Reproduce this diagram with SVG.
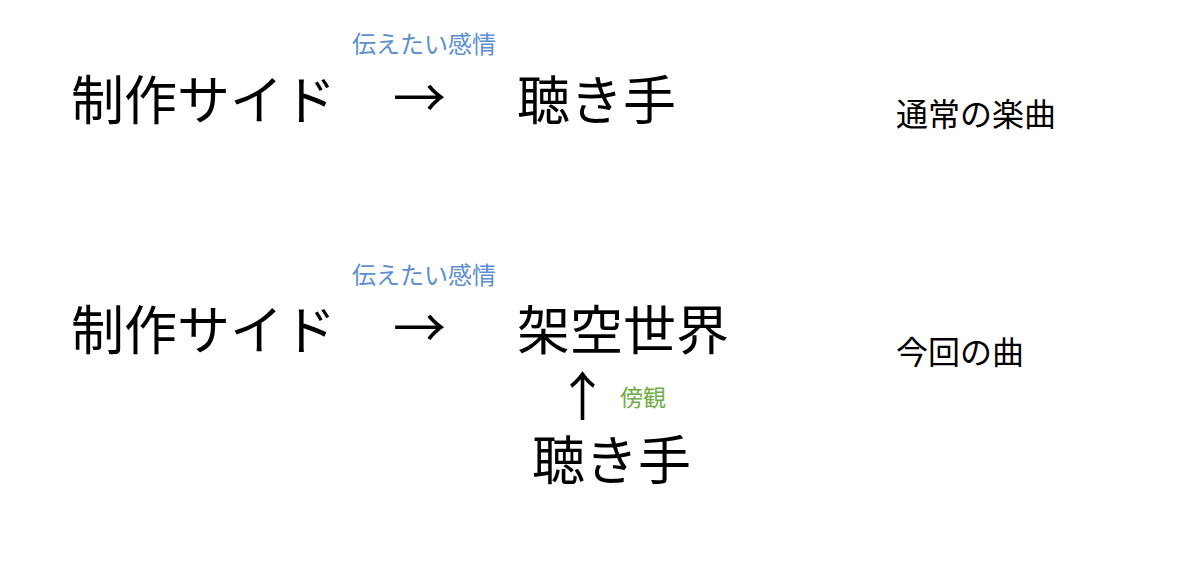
<svg xmlns="http://www.w3.org/2000/svg" width="1200" height="575" viewBox="0 0 1200 575">
<style>
text{font-family:"Noto Sans CJK JP","Noto Sans",sans-serif;fill:#000}
.big{font-size:53px}
.mid{font-size:32px}
.blue{font-size:24px;fill:#5B8FD0}
.green{font-size:23px;fill:#70AD47}
</style>
<rect width="1200" height="575" fill="#fff"/>
<g id="row1">
<g id="producer1"><text class="big" x="71" y="120">制作サイド</text></g>
<g id="listener1"><text class="big" x="517" y="120">聴き手</text></g>
<g id="label1"><text class="mid" x="896" y="126">通常の楽曲</text></g>
</g>
<g id="row2">
<g id="producer2"><text class="big" x="71" y="350">制作サイド</text></g>
<g id="world"><text class="big" x="517" y="350">架空世界</text></g>
<g id="listener2"><text class="big" x="532" y="480">聴き手</text></g>
<g id="label2"><text class="mid" x="896" y="364">今回の曲</text></g>
</g>
<g id="connectors">
<text class="big" x="393" y="118">→</text>
<text class="blue" x="352" y="53">伝えたい感情</text>
<text class="big" x="393" y="348">→</text>
<text class="blue" x="352" y="284">伝えたい感情</text>
<text class="big" x="556" y="416">↑</text>
<text class="green" x="620" y="406">傍観</text>
</g>
</svg>
